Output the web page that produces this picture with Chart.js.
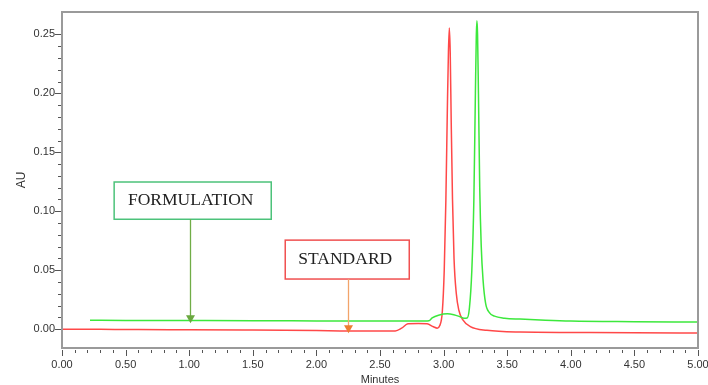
<!DOCTYPE html>
<html>
<head>
<meta charset="utf-8">
<script src="https://cdn.jsdelivr.net/npm/chart.js@4/dist/chart.umd.min.js"></script>
<style>
    html, body { margin: 0; padding: 0; background: #fff; }
    #wrap { width: 708px; height: 385px; }
</style>
</head>
<body>
<div id="wrap"><canvas id="chrom" width="708" height="385"></canvas></div>
<script>
// chromatogram traces (minutes / AU)
var formulationTime = [0.22, 0.5, 1.0, 1.5, 2.0, 2.5, 2.85, 2.885, 2.91, 2.96, 3.03, 3.08, 3.13, 3.16, 3.185,
    3.203, 3.222, 3.238, 3.25, 3.257, 3.262, 3.267, 3.274, 3.284, 3.296, 3.31, 3.33, 3.36,
    3.4, 3.48, 3.6, 3.8, 4.0, 4.5, 5.0];
var formulationAU = [0.0075, 0.0074, 0.0073, 0.0072, 0.0070, 0.0068, 0.0070, 0.0072, 0.0095, 0.0118, 0.0130, 0.0122, 0.0105, 0.0093, 0.0095,
    0.018, 0.05, 0.11, 0.20, 0.248, 0.2615, 0.25, 0.20, 0.12, 0.07, 0.042, 0.022, 0.014,
    0.011, 0.0093, 0.0085, 0.0075, 0.0068, 0.0063, 0.0060];

var standardTime = [0.0, 0.3, 0.6, 1.0, 1.5, 2.0, 2.25, 2.5, 2.62, 2.67, 2.72, 2.8, 2.87, 2.92, 2.95,
    2.97, 2.99, 3.005, 3.018, 3.03, 3.038, 3.045, 3.052, 3.06, 3.07, 3.082, 3.1, 3.12, 3.15, 3.21,
    3.34, 3.6, 4.0, 4.5, 5.0];
var standardAU = [0.0, 0.0, -0.0004, -0.0005, -0.0008, -0.0012, -0.0015, -0.0015, -0.0015, 0.0008, 0.0045, 0.0047, 0.0045, 0.002, 0.0008,
    0.003, 0.015, 0.05, 0.11, 0.19, 0.235, 0.2555, 0.235, 0.175, 0.11, 0.06, 0.03, 0.016, 0.008, 0.0022,
    -0.001, -0.0025, -0.0028, -0.003, -0.0033];

var xMajorStep = 0.5;
var xMinorStep = 0.1;
var yMajorStep = 0.05;
var yMinorStep = 0.01;

(function () {
    "use strict";

    // callouts in data units: box corners and arrow tip
    var callouts = [
        { text: "FORMULATION", x0: 0.41, x1: 1.645, y0: 0.1248, y1: 0.0932, arrowX: 1.01, tipY: 0.0050,
          box: "#4cc27a", line: "#70ad47", head: "#6aa83f" },
        { text: "STANDARD", x0: 1.755, x1: 2.73, y0: 0.0755, y1: 0.0425, arrowX: 2.25, tipY: -0.0035,
          box: "#f05050", line: "#f2a46a", head: "#ed7d31" }
    ];

    function points(xs, ys) {
        return xs.map(function (x, i) {
            return { x: x, y: ys[i] };
        });
    }

    function isStep(v, step) {
        var r = v / step;
        return Math.abs(r - Math.round(r)) < 1e-6;
    }

    var framePlugin = {
        id: "frame",
        afterDraw: function (chart) {
            var ctx = chart.ctx;
            var a = chart.chartArea;
            var xs = chart.scales.x;
            var ys = chart.scales.y;

            ctx.save();
            ctx.strokeStyle = "#9a9a9a";
            ctx.lineWidth = 2;
            ctx.strokeRect(a.left, a.top, a.right - a.left, a.bottom - a.top);

            ctx.strokeStyle = "#555";
            ctx.lineWidth = 1;
            ctx.beginPath();
            ys.ticks.forEach(function (t) {
                if (!isStep(t.value, yMinorStep)) {
                    return;
                }
                var py = Math.round(ys.getPixelForValue(t.value)) + 0.5;
                var len = isStep(t.value, yMajorStep) ? 6 : 3;
                ctx.moveTo(a.left - 1 - len, py);
                ctx.lineTo(a.left - 1, py);
            });
            xs.ticks.forEach(function (t) {
                if (!isStep(t.value, xMinorStep)) {
                    return;
                }
                var px = Math.round(xs.getPixelForValue(t.value)) + 0.5;
                var len = isStep(t.value, xMajorStep) ? 6 : 3;
                ctx.moveTo(px, a.bottom + 2);
                ctx.lineTo(px, a.bottom + 2 + len);
            });
            ctx.stroke();

            callouts.forEach(function (c) {
                var bx0 = xs.getPixelForValue(c.x0);
                var bx1 = xs.getPixelForValue(c.x1);
                var by0 = ys.getPixelForValue(c.y0);
                var by1 = ys.getPixelForValue(c.y1);
                var ax = Math.round(xs.getPixelForValue(c.arrowX)) + 0.5;
                var tip = ys.getPixelForValue(c.tipY);

                ctx.fillStyle = "#fff";
                ctx.fillRect(bx0, by0, bx1 - bx0, by1 - by0);
                ctx.strokeStyle = c.box;
                ctx.lineWidth = 1.5;
                ctx.strokeRect(bx0, by0, bx1 - bx0, by1 - by0);

                ctx.fillStyle = "#222";
                ctx.font = "17.5px 'Liberation Serif', 'Times New Roman', serif";
                ctx.textAlign = "center";
                ctx.textBaseline = "middle";
                ctx.fillText(c.text, (bx0 + bx1) / 2 - 2, (by0 + by1) / 2);

                ctx.strokeStyle = c.line;
                ctx.lineWidth = 1.3;
                ctx.beginPath();
                ctx.moveTo(ax, by1);
                ctx.lineTo(ax, tip - 6);
                ctx.stroke();

                ctx.fillStyle = c.head;
                ctx.beginPath();
                ctx.moveTo(ax - 4.5, tip - 8);
                ctx.lineTo(ax + 4.5, tip - 8);
                ctx.lineTo(ax, tip);
                ctx.closePath();
                ctx.fill();
            });
            ctx.restore();
        }
    };

    var tickFont = { family: "'Liberation Sans', Arial, sans-serif", size: 11 };

    new Chart(document.getElementById("chrom").getContext("2d"), {
        type: "line",
        data: {
            datasets: [
                {
                    label: "FORMULATION",
                    data: points(formulationTime, formulationAU),
                    borderColor: "rgb(60,232,60)",
                    borderWidth: 1.5,
                    pointRadius: 0,
                    fill: false,
                    cubicInterpolationMode: "monotone"
                },
                {
                    label: "STANDARD",
                    data: points(standardTime, standardAU),
                    borderColor: "rgb(255,72,72)",
                    borderWidth: 1.5,
                    pointRadius: 0,
                    fill: false,
                    cubicInterpolationMode: "monotone"
                }
            ]
        },
        options: {
            responsive: false,
            animation: false,
            events: [],
            layout: {
                padding: { top: 12, right: 10, left: 0, bottom: 0 }
            },
            plugins: {
                legend: { display: false },
                tooltip: { enabled: false }
            },
            scales: {
                x: {
                    type: "linear",
                    min: 0,
                    max: 5,
                    afterFit: function (scale) {
                        scale.height = 37;
                        scale.paddingLeft = 0;
                        scale.paddingRight = 0;
                    },
                    grid: { display: false, drawTicks: false },
                    border: { display: false },
                    ticks: {
                        stepSize: xMinorStep,
                        autoSkip: false,
                        maxRotation: 0,
                        padding: 10,
                        color: "#333",
                        font: tickFont,
                        callback: function (v) {
                            return isStep(v, xMajorStep) ? v.toFixed(2) : "";
                        }
                    },
                    title: {
                        display: true,
                        text: "Minutes",
                        color: "#333",
                        font: { family: "'Liberation Sans', Arial, sans-serif", size: 11, lineHeight: 1 },
                        padding: { top: 0, bottom: 0 }
                    }
                },
                y: {
                    min: -0.016,
                    max: 0.269,
                    afterFit: function (scale) {
                        scale.width = 62;
                        scale.paddingTop = 0;
                        scale.paddingBottom = 0;
                    },
                    grid: { display: false, drawTicks: false },
                    border: { display: false },
                    ticks: {
                        stepSize: yMinorStep,
                        autoSkip: false,
                        padding: 7,
                        color: "#333",
                        font: tickFont,
                        callback: function (v) {
                            return isStep(v, yMajorStep) ? v.toFixed(2) : "";
                        }
                    },
                    title: {
                        display: true,
                        text: "AU",
                        color: "#333",
                        font: { family: "'Liberation Sans', Arial, sans-serif", size: 12, lineHeight: 1 },
                        padding: { top: 16, bottom: 0 }
                    }
                }
            }
        },
        plugins: [framePlugin]
    });
})();
</script>
</body>
</html>
